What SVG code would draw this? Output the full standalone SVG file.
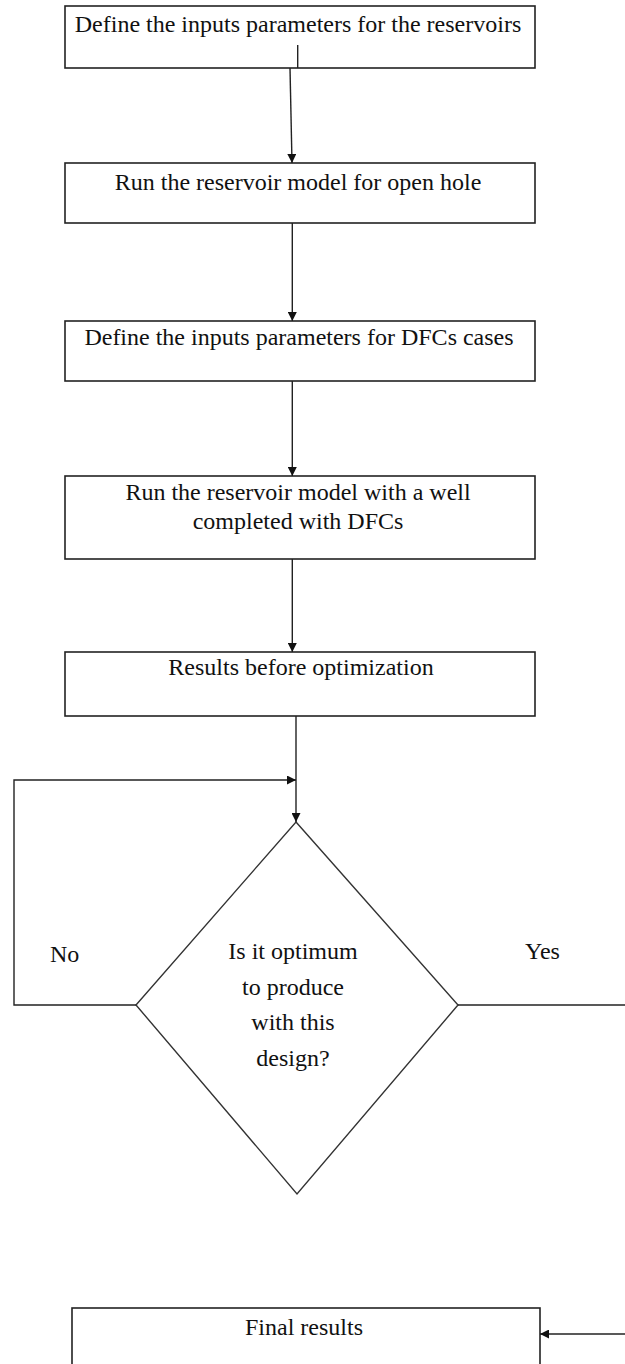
<svg xmlns="http://www.w3.org/2000/svg" width="625" height="1364" viewBox="0 0 625 1364">
  <style>
    .box { fill: #fff; stroke: #222; stroke-width: 1.6; }
    .shape { fill: #fff; stroke: #333; stroke-width: 1.4; }
    .wire { fill: none; stroke: #222; stroke-width: 1.4; }
    .lbl { font-family: "Liberation Serif", "Times New Roman", serif; font-size: 24px; fill: #111; text-anchor: middle; }
    .side { font-family: "Liberation Serif", "Times New Roman", serif; font-size: 24px; fill: #111; }
  </style>
  <defs>
    <marker id="arrow" viewBox="0 0 10 10" refX="10" refY="5" markerWidth="9" markerHeight="9" markerUnits="userSpaceOnUse" orient="auto">
      <path d="M0,0 L10,5 L0,10 z" fill="#111"/>
    </marker>
  </defs>
  <rect width="625" height="1364" fill="#fff"/>

  <g id="n1">
    <rect class="box" x="65" y="6" width="470" height="62"/>
    <text class="lbl" x="298" y="32" font-size="23.5">Define the inputs parameters for the reservoirs</text>
  </g>
  <g id="n2">
    <rect class="box" x="65" y="163" width="470" height="60"/>
    <text class="lbl" x="298" y="190">Run the reservoir model for open hole</text>
  </g>
  <g id="n3">
    <rect class="box" x="65" y="321" width="470" height="60"/>
    <text class="lbl" x="299" y="345">Define the inputs parameters for DFCs cases</text>
  </g>
  <g id="n4">
    <rect class="box" x="65" y="476" width="470" height="83"/>
    <text class="lbl" x="298" y="500">Run the reservoir model with a well</text>
    <text class="lbl" x="298" y="529">completed with DFCs</text>
  </g>
  <g id="n5">
    <rect class="box" x="65" y="652" width="470" height="64"/>
    <text class="lbl" x="301" y="675">Results before optimization</text>
  </g>
  <g id="n6">
    <polygon class="shape" points="296,822 458,1005 297,1194 136,1005"/>
    <text class="lbl" x="293" y="959">Is it optimum</text>
    <text class="lbl" x="293" y="995">to produce</text>
    <text class="lbl" x="293" y="1030">with this</text>
    <text class="lbl" x="293" y="1066">design?</text>
  </g>
  <g id="n7">
    <rect class="box" x="72" y="1308" width="468" height="80"/>
    <text class="lbl" x="304" y="1335">Final results</text>
  </g>

  <g id="connectors">
    <line class="wire" x1="297.7" y1="45" x2="297.7" y2="68"/>
    <line class="wire" x1="290" y1="68" x2="292" y2="163" marker-end="url(#arrow)"/>
    <line class="wire" x1="292.3" y1="223" x2="292.3" y2="321" marker-end="url(#arrow)"/>
    <line class="wire" x1="292.3" y1="381" x2="292.3" y2="476" marker-end="url(#arrow)"/>
    <line class="wire" x1="292.3" y1="559" x2="292.3" y2="652" marker-end="url(#arrow)"/>
    <line class="wire" x1="296" y1="716" x2="296" y2="822" marker-end="url(#arrow)"/>
    <polyline class="wire" points="136,1005 14,1005 14,780 296,780" marker-end="url(#arrow)"/>
    <line class="wire" x1="458" y1="1005" x2="625" y2="1005"/>
    <line class="wire" x1="625" y1="1334" x2="540" y2="1334" marker-end="url(#arrow)"/>
    <text class="side" x="50" y="962">No</text>
    <text class="side" x="525" y="959">Yes</text>
  </g>
</svg>
